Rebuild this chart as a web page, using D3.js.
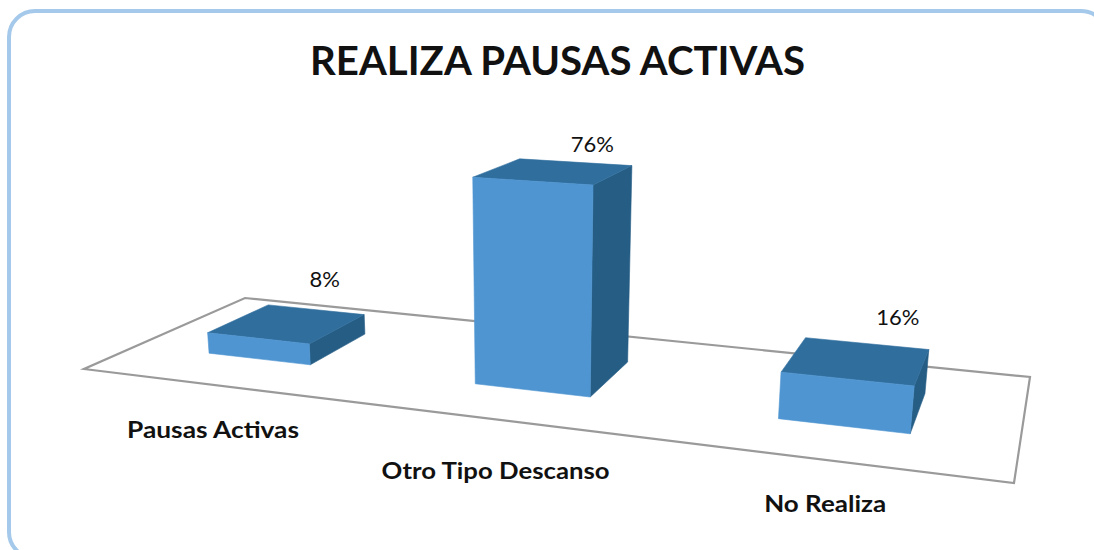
<html>
  <head>
    <meta charset="utf-8">
    <title>Realiza pausas activas</title>
    <style>
      html, body { margin: 0; padding: 0; background: #fff; overflow: hidden; }
      svg { display: block; }
      text { font-family: Lato, "Noto Sans", sans-serif; fill: #111; }
    </style>
  </head>
  <body>
    <script src="https://d3js.org/d3.v7.min.js"></script>
    <script>
    var categories = ["Pausas Activas", "Otro Tipo Descanso", "No Realiza"];
    var percentages = [8, 76, 16];
    var chartTitle = "REALIZA PAUSAS ACTIVAS";

    var width = 1094, height = 550;

    var svg = d3.select("body").append("svg")
      .attr("width", width)
      .attr("height", height);

    // outer frame, runs off the right and bottom of the picture
    svg.append("rect")
      .attr("x", 9).attr("y", 11)
      .attr("width", 1098).attr("height", 547)
      .attr("rx", 26).attr("ry", 26)
      .attr("fill", "#fff")
      .attr("stroke", "#a5c9ea")
      .attr("stroke-width", 4);

    // floor of the 3D plot: u runs along the categories, v goes to the back
    var floor = { fl: [84, 369], fr: [1014, 483], br: [1030, 377], bl: [245, 298] };

    function makeHomography(q) {
      var dx1 = q.fr[0] - q.br[0], dy1 = q.fr[1] - q.br[1];
      var dx2 = q.bl[0] - q.br[0], dy2 = q.bl[1] - q.br[1];
      var sx = q.fl[0] - q.fr[0] + q.br[0] - q.bl[0];
      var sy = q.fl[1] - q.fr[1] + q.br[1] - q.bl[1];
      var det = dx1 * dy2 - dx2 * dy1;
      var g = (sx * dy2 - dx2 * sy) / det;
      var h = (dx1 * sy - sx * dy1) / det;
      return {
        a: q.fr[0] - q.fl[0] + g * q.fr[0], b: q.bl[0] - q.fl[0] + h * q.bl[0], c: q.fl[0],
        d: q.fr[1] - q.fl[1] + g * q.fr[1], e: q.bl[1] - q.fl[1] + h * q.bl[1], f: q.fl[1],
        g: g, h: h
      };
    }
    var H = makeHomography(floor);

    var uScale = d3.scaleBand().domain(categories).range([-0.004, 0.996])
      .paddingInner(0.605).paddingOuter(0.3);
    var vFront = 0.3, vBack = 0.7;
    var heightScale = d3.scaleLinear().domain([0, 80]).range([0, 212]);

    // vertical edges lean slightly towards a point far below the chart
    var vanishX = 530, vanishDist = 4500;

    function project(u, v, value) {
      var w = H.g * u + H.h * v + 1;
      var x = (H.a * u + H.b * v + H.c) / w;
      var y = (H.d * u + H.e * v + H.f) / w;
      var lift = heightScale(value) / w;
      return [x + (x - vanishX) * lift / vanishDist, y - lift];
    }

    var line = d3.line();

    svg.append("path")
      .attr("d", line([floor.fl, floor.fr, floor.br, floor.bl]) + "Z")
      .attr("fill", "#fff")
      .attr("stroke", "#9a9a9a")
      .attr("stroke-width", 2.2);

    function facePoints(cat, val, face) {
      var u0 = uScale(cat), u1 = u0 + uScale.bandwidth();
      if (face == "front") return [project(u0, vFront, 0), project(u1, vFront, 0), project(u1, vFront, val), project(u0, vFront, val)];
      if (face == "top") return [project(u0, vFront, val), project(u1, vFront, val), project(u1, vBack, val), project(u0, vBack, val)];
      return [project(u1, vFront, 0), project(u1, vBack, 0), project(u1, vBack, val), project(u1, vFront, val)];
    }

    var faces = [
      { name: "side", color: "#255d85" },
      { name: "top", color: "#306e9e" },
      { name: "front", color: "#4f95d1" }
    ];

    var bars = svg.selectAll("g.bar")
      .data(categories)
      .enter().append("g")
      .attr("class", "bar");

    bars.selectAll("path")
      .data(function (c, i) {
        return faces.map(function (f) { return { cat: c, val: percentages[i], face: f }; });
      })
      .enter().append("path")
      .attr("d", function (d) { return line(facePoints(d.cat, d.val, d.face.name)) + "Z"; })
      .attr("fill", function (d) { return d.face.color; })
      .attr("stroke", function (d) { return d.face.color; })
      .attr("stroke-width", 0.6);

    // title
    svg.append("text")
      .attr("x", 310).attr("y", 75)
      .attr("font-size", 40).attr("font-weight", 700)
      .attr("textLength", 495).attr("lengthAdjust", "spacingAndGlyphs")
      .text(chartTitle);

    // value labels sit above the top face of each bar
    var valueNudge = [[37, -36], [38, -19], [41, -36]];
    svg.selectAll("text.value")
      .data(categories)
      .enter().append("text")
      .attr("class", "value")
      .attr("text-anchor", "middle")
      .attr("font-size", 22)
      .attr("x", function (c, i) {
        return project(uScale(c) + uScale.bandwidth() / 2, (vFront + vBack) / 2, percentages[i])[0] + valueNudge[i][0];
      })
      .attr("y", function (c, i) {
        return project(uScale(c) + uScale.bandwidth() / 2, (vFront + vBack) / 2, percentages[i])[1] + valueNudge[i][1];
      })
      .text(function (c, i) { return percentages[i] + "%"; });

    // category labels hang under the front edge of the floor
    var labelNudge = [[3, 54], [-1, 59], [-1, 52]];
    var labelWidth = [172, 228, 122];
    svg.selectAll("text.cat")
      .data(categories)
      .enter().append("text")
      .attr("class", "cat")
      .attr("text-anchor", "middle")
      .attr("font-size", 23).attr("font-weight", 700)
      .attr("textLength", function (c, i) { return labelWidth[i]; })
      .attr("lengthAdjust", "spacingAndGlyphs")
      .attr("x", function (c, i) { return project(uScale(c) + uScale.bandwidth() / 2, 0, 0)[0] + labelNudge[i][0]; })
      .attr("y", function (c, i) { return project(uScale(c) + uScale.bandwidth() / 2, 0, 0)[1] + labelNudge[i][1]; })
      .text(function (c) { return c; });
    </script>
  </body>
</html>
